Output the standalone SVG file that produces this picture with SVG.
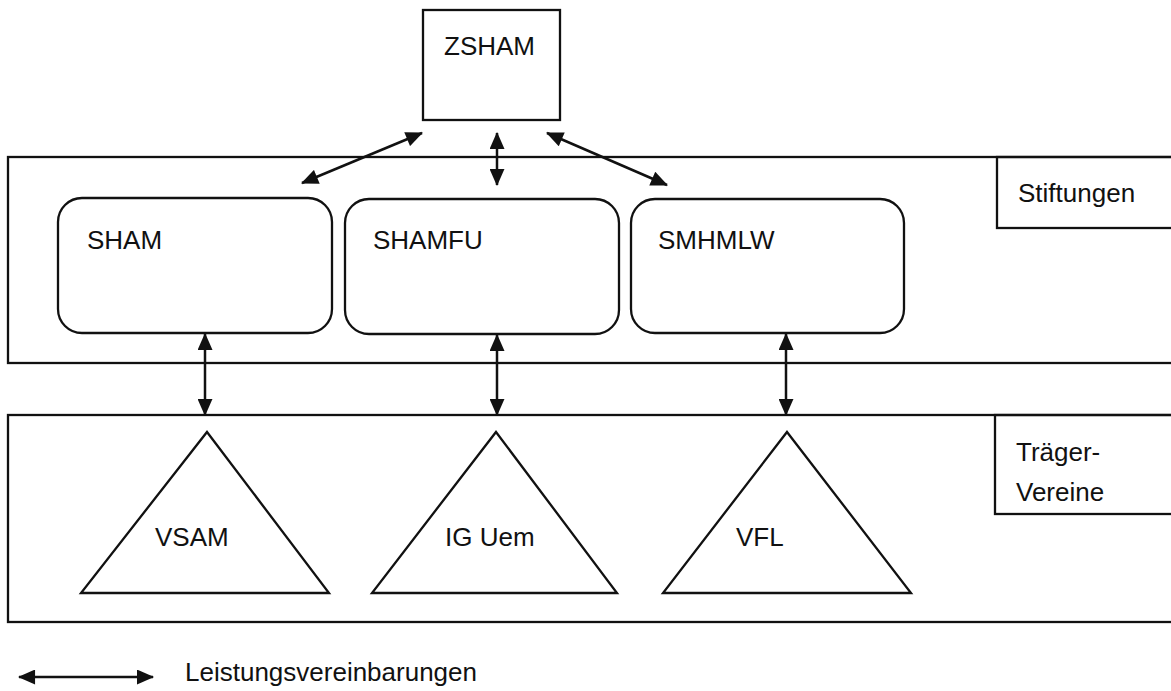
<svg xmlns="http://www.w3.org/2000/svg" width="1171" height="691" viewBox="0 0 1171 691">
<style>
.box{fill:none;stroke:#111;stroke-width:2.3}
.node{fill:#fff;stroke:#111;stroke-width:2.3}
.lbl{font-family:"Liberation Sans",Arial,sans-serif;font-size:26px;fill:#111}
.con{stroke:#111;stroke-width:2.5;fill:none;marker-start:url(#ah);marker-end:url(#ah)}
</style>
<defs>
<marker id="ah" viewBox="0 0 8 7" refX="7.5" refY="3.5" markerWidth="7.2" markerHeight="6" orient="auto-start-reverse" markerUnits="strokeWidth">
<path d="M0,0 L8,3.5 L0,7 z" fill="#111"/>
</marker>
</defs>
<rect width="1171" height="691" fill="#fff"/>
<g id="stiftungen-layer">
<rect class="box" x="8" y="157" width="1175" height="206"/>
<rect class="box" x="997" y="157" width="186" height="71"/>
<text class="lbl" x="1018" y="202">Stiftungen</text>
</g>
<g id="traeger-layer">
<rect class="box" x="8" y="415" width="1175" height="207"/>
<rect class="box" x="995" y="415" width="188" height="99"/>
<text class="lbl" x="1016" y="461">Träger-</text>
<text class="lbl" x="1016" y="501">Vereine</text>
</g>
<g id="zsham">
<rect class="node" x="423" y="10" width="137" height="110"/>
<text class="lbl" x="444" y="55">ZSHAM</text>
</g>
<g id="sham">
<rect class="node" x="58" y="198" width="274" height="135" rx="24"/>
<text class="lbl" x="87" y="249">SHAM</text>
</g>
<g id="shamfu">
<rect class="node" x="345" y="199" width="274" height="135" rx="24"/>
<text class="lbl" x="373" y="249">SHAMFU</text>
</g>
<g id="smhmlw">
<rect class="node" x="631" y="199" width="273" height="134" rx="24"/>
<text class="lbl" x="658" y="249">SMHMLW</text>
</g>
<g id="vsam">
<polygon class="node" points="207,432 329,593 81,593"/>
<text class="lbl" x="155" y="546">VSAM</text>
</g>
<g id="igUem">
<polygon class="node" points="496,432 617,593 372,593"/>
<text class="lbl" x="445" y="546">IG Uem</text>
</g>
<g id="vfl">
<polygon class="node" points="787,432 911,593 663,593"/>
<text class="lbl" x="736" y="546">VFL</text>
</g>
<g id="connectors">
<line class="con" x1="302" y1="183" x2="422" y2="133"/>
<line class="con" x1="497" y1="185" x2="497" y2="133"/>
<line class="con" x1="667" y1="185" x2="547" y2="133"/>
<line class="con" x1="205" y1="334" x2="205" y2="415"/>
<line class="con" x1="497" y1="335" x2="497" y2="415"/>
<line class="con" x1="786" y1="334" x2="786" y2="415"/>
</g>
<g id="legend">
<line class="con" x1="19" y1="677" x2="153" y2="677"/>
<text class="lbl" x="185" y="681">Leistungsvereinbarungen</text>
</g>
</svg>
